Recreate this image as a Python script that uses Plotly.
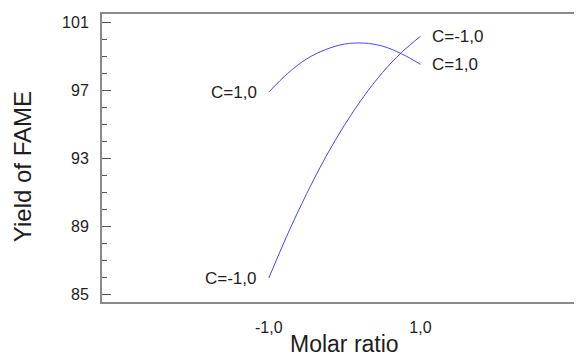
import plotly.graph_objects as go

# Data
molar_ratio = [-1.0, -0.75, -0.5, -0.25, 0.0, 0.25, 0.5, 0.75, 1.0]
yield_c_pos = [96.9, 98.0, 98.85, 99.4, 99.72, 99.78, 99.6, 99.15, 98.53]    # C=1,0
yield_c_neg = [85.96, 88.56, 90.93, 93.08, 94.97, 96.63, 98.05, 99.23, 100.18]  # C=-1,0
series_labels = ["C=1,0", "C=-1,0"]

x_tickvals = [-1, 1]
x_ticktext = ["-1,0", "1,0"]
y_major = [85, 89, 93, 97, 101]

FONT = "Liberation Sans, Arial, sans-serif"
LINE_COLOR = "rgb(70,70,255)"
AXIS_COLOR = "#8a8a8a"
TEXT_COLOR = "#1e1e1e"

fig = go.Figure()
for ys, name in zip([yield_c_pos, yield_c_neg], series_labels):
    fig.add_trace(go.Scatter(x=molar_ratio, y=ys, mode="lines", name=name,
                             line=dict(color=LINE_COLOR, width=1, shape="spline"),
                             showlegend=False, hoverinfo="skip"))

# dummy trace for right-side ticks
fig.add_trace(go.Scatter(x=[None], y=[None], yaxis="y2", showlegend=False))

annotations = []
for ys, name in zip([yield_c_pos, yield_c_neg], series_labels):
    annotations.append(dict(x=molar_ratio[0], y=ys[0], text=name, showarrow=False,
                            xanchor="right", yanchor="middle", xshift=-10,
                            font=dict(family=FONT, size=17, color=TEXT_COLOR)))
    annotations.append(dict(x=molar_ratio[-1], y=ys[-1], text=name, showarrow=False,
                            xanchor="left", yanchor="middle", xshift=10,
                            font=dict(family=FONT, size=17, color=TEXT_COLOR)))

annotations.append(dict(xref="paper", yref="paper", x=0.505, y=0, text="Molar ratio",
                        showarrow=False, xanchor="center", yanchor="top", yshift=-27,
                        font=dict(family=FONT, size=23, color=TEXT_COLOR)))
annotations.append(dict(xref="paper", yref="paper", x=-0.165, y=0.471, text="Yield of FAME",
                        showarrow=False, xanchor="center", yanchor="middle", textangle=-90,
                        font=dict(family=FONT, size=24, color=TEXT_COLOR)))

yrange = [84.55, 101.49]

fig.update_layout(
    width=574, height=350,
    margin=dict(l=94, r=0, t=6, b=56),
    paper_bgcolor="white", plot_bgcolor="white",
    font=dict(family=FONT, color=TEXT_COLOR),
    xaxis=dict(range=[-3.2, 3.13], tickvals=x_tickvals, ticktext=x_ticktext,
               showgrid=False, zeroline=False, showline=True, linecolor=AXIS_COLOR,
               linewidth=2, mirror=True, ticks="", ticklabelstandoff=10,
               tickfont=dict(family=FONT, size=16, color=TEXT_COLOR)),
    yaxis=dict(range=yrange, tickvals=y_major, showgrid=False, zeroline=False,
               showline=True, linecolor=AXIS_COLOR, linewidth=2, ticks="inside",
               ticklen=9, tickcolor="#555", tickwidth=1, ticklabelstandoff=8,
               tickfont=dict(family=FONT, size=16, color=TEXT_COLOR),
               minor=dict(dtick=1, tick0=85, ticks="inside", ticklen=5,
                          tickcolor="#555", tickwidth=1, showgrid=False)),
    yaxis2=dict(range=yrange, overlaying="y", side="right", tickvals=y_major,
                showticklabels=False, showgrid=False, zeroline=False, showline=False,
                ticks="inside", ticklen=4, tickcolor="#555", tickwidth=1),
    annotations=annotations,
)

fig.write_html("out.html")
